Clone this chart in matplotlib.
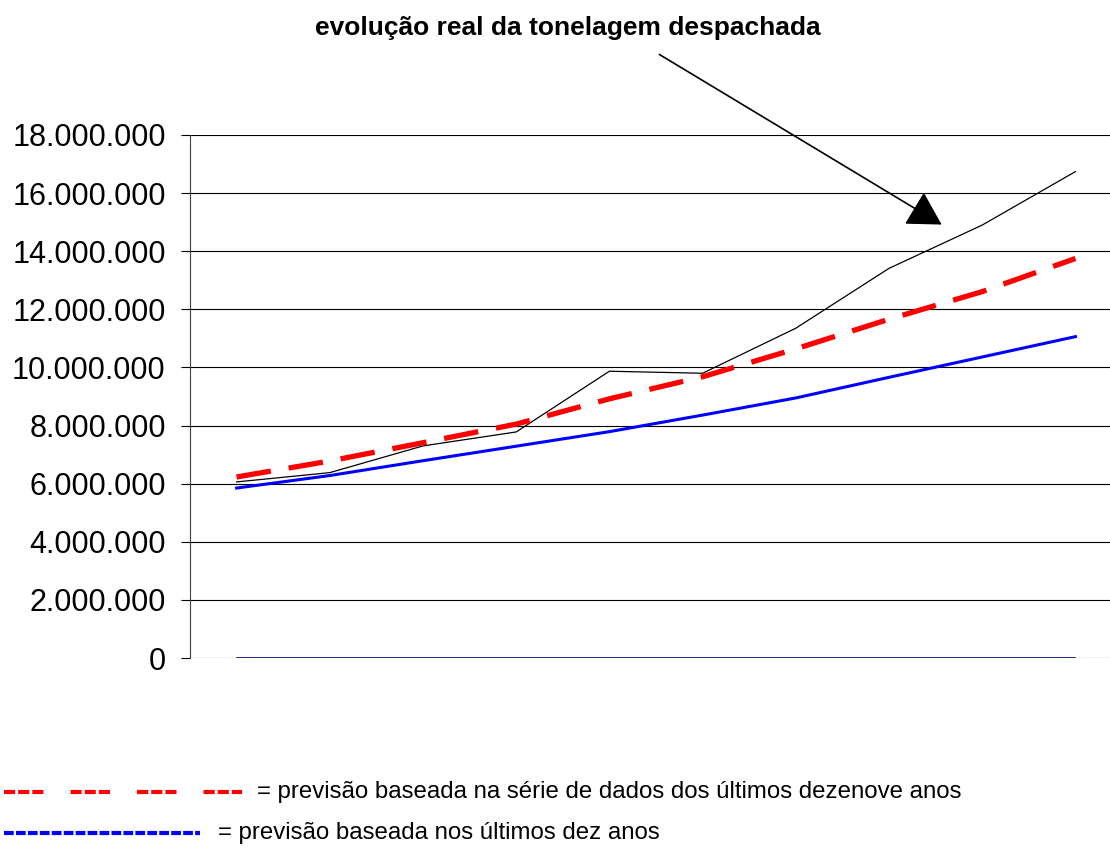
import numpy as np
import matplotlib
matplotlib.use("Agg")
import matplotlib.pyplot as plt
from matplotlib.lines import Line2D
from matplotlib.ticker import FuncFormatter

plt.rcParams['font.family'] = ['Liberation Sans', 'DejaVu Sans']
plt.rcParams['lines.scale_dashes'] = False

# dados (10 anos, sem rótulos no eixo x)
anos = np.arange(10)
real = [6060000, 6380000, 7300000, 7780000, 9870000, 9800000, 11350000, 13410000, 14900000, 16740000]
prev_19 = [6230000, 6780000, 7410000, 8050000, 8920000, 9680000, 10640000, 11660000, 12610000, 13750000]
prev_10 = [5850000, 6280000, 6790000, 7290000, 7790000, 8360000, 8950000, 9660000, 10360000, 11060000]
zeros = [0, 0, 0, 0, 0, 0, 0, 0, 0, 0]
yticks = np.arange(0, 18000001, 2000000)

fig = plt.figure(figsize=(11.1, 8.48), dpi=100)
ax = fig.add_axes([190 / 1110, 1 - 658 / 848, 932 / 1110, 523 / 848])

ax.plot(anos, zeros, color="#000080", lw=1.2, zorder=3)
ax.plot(anos, prev_10, color="#0000ff", lw=2.2, zorder=3)
ax.plot(anos, real, color="black", lw=0.9, zorder=4)
ax.plot(anos, prev_19, color="#ff0000", lw=3.8, dashes=(25, 13), zorder=5)

ax.set_xlim(-0.5, 9.5)
ax.set_ylim(0, 18000000)
ax.set_yticks(yticks)
ax.yaxis.set_major_formatter(FuncFormatter(lambda v, p: f"{int(v):,}".replace(",", ".")))
ax.tick_params(axis="y", labelsize=22, length=6.5, width=0.8, direction="out", pad=11)
ax.set_xticks([])
ax.grid(axis="y", color="black", lw=0.8)
ax.set_axisbelow(True)
for s in ["top", "right", "bottom"]:
    ax.spines[s].set_visible(False)
ax.spines["left"].set_color("#404040")
ax.spines["left"].set_linewidth(0.8)

# título e seta
fig.text(568 / 1110, 1 - 28 / 848, "evolução real da tonelagem despachada",
         ha="center", va="center", fontsize=19, fontweight="bold")
ax.annotate("", xy=(944, 848 - 226), xycoords="figure pixels",
            xytext=(657, 848 - 53), textcoords="figure pixels",
            arrowprops=dict(arrowstyle="-|>,head_length=1.05,head_width=0.6",
                            mutation_scale=20, color="black", lw=1.2))

# legenda
fig.add_artist(Line2D([4 / 1110, 242 / 1110], [1 - 792 / 848] * 2, color="#ff0000", lw=3,
                      dashes=(8, 2.2, 8, 2.2, 8, 19.5), transform=fig.transFigure))
fig.text(257 / 1110, 1 - 792 / 848, "= previsão baseada na série de dados dos últimos dezenove anos",
         ha="left", va="center", fontsize=17.3)
fig.add_artist(Line2D([4 / 1110, 200 / 1110], [1 - 833 / 848] * 2, color="#0000ff", lw=3,
                      dashes=(7, 1.6), transform=fig.transFigure))
fig.text(218 / 1110, 1 - 833 / 848, "= previsão baseada nos últimos dez anos",
         ha="left", va="center", fontsize=17.3)

fig.savefig("out.png", dpi=100)
